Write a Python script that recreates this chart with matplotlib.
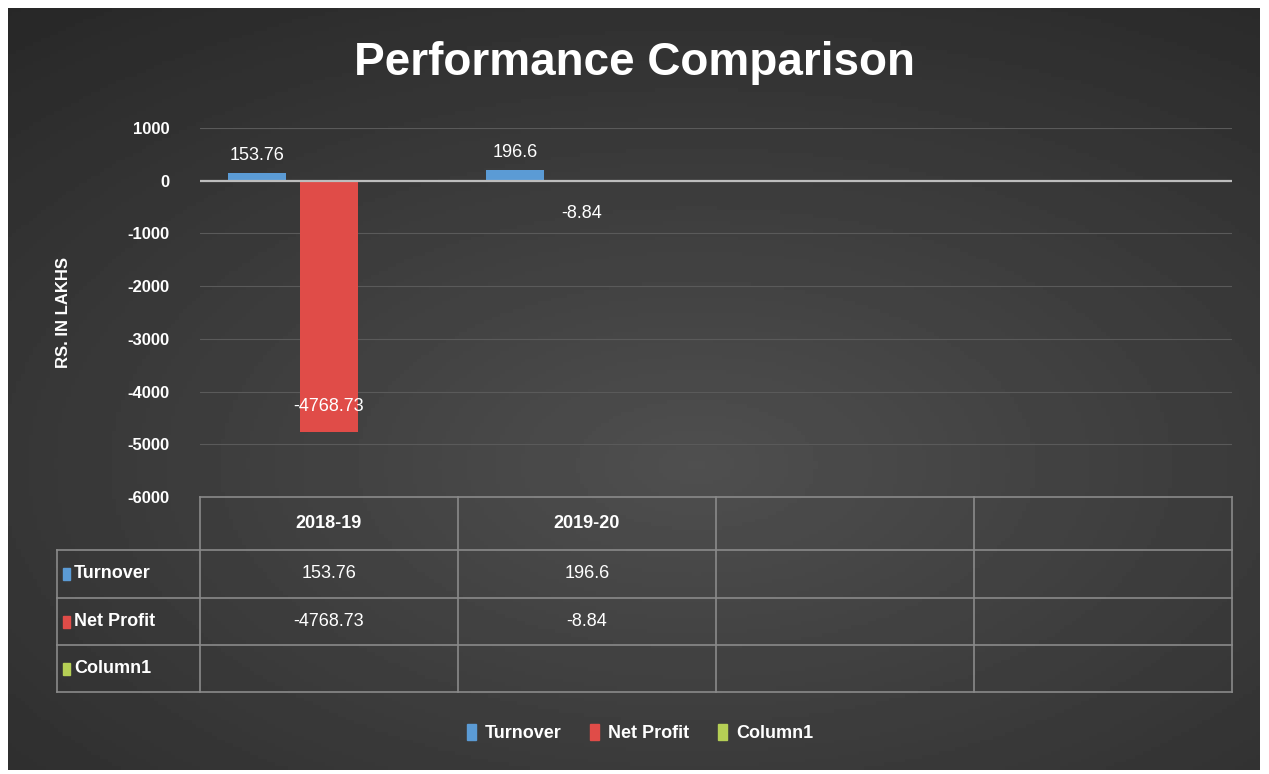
import matplotlib.pyplot as plt
import numpy as np
from matplotlib.lines import Line2D
from matplotlib.patches import Rectangle

plt.rcParams['font.family'] = ['Liberation Sans Narrow', 'Liberation Sans', 'DejaVu Sans']

years = ['2018-19', '2019-20', '', '']
series = ['Turnover', 'Net Profit', 'Column1']
turnover = [153.76, 196.6, None, None]
net_profit = [-4768.73, -8.84, None, None]
column1 = [None, None, None, None]
colors = ['#5b9bd5', '#e04c48', '#b5cf55']
yticks = [1000, 0, -1000, -2000, -3000, -4000, -5000, -6000]

W, H = 1269, 774
fig = plt.figure(figsize=(W / 100, H / 100), dpi=100)
fig.patch.set_facecolor('white')

# dark gradient background
bg = fig.add_axes([8 / W, 4 / H, 1252 / W, 762 / H])
yy, xx = np.mgrid[0:1:200j, 0:1:300j]
r = np.sqrt(((xx - 0.55) / 0.9) ** 2 + ((yy - 0.6) / 0.8) ** 2)
bg.imshow(0.31 - 0.16 * r, cmap='gray', vmin=0, vmax=1, aspect='auto', extent=[0, 1, 0, 1])
bg.set_axis_off()

def fx(px):
    return px / W

def fy(py):
    return 1 - py / H

ax = fig.add_axes([fx(200), fy(497), fx(1232) - fx(200), fy(128) - fy(497)])
ax.patch.set_alpha(0)
x = np.arange(len(years))
width = 0.225
step = 0.28
for i, vals in enumerate([turnover, net_profit, column1]):
    v = np.array([np.nan if a is None else a for a in vals], dtype=float)
    ax.bar(x + (i - 1) * step, np.nan_to_num(v), width, color=colors[i], zorder=3,
           edgecolor='none')

ax.set_xlim(-0.5, 3.5)
ax.set_ylim(-6000, 1000)
ax.set_yticks(yticks)
ax.set_yticklabels([str(t) for t in yticks], color='white', fontsize=12, fontweight='bold')
ax.tick_params(axis='y', length=0, pad=22)
ax.set_xticks([])
for s in ax.spines.values():
    s.set_visible(False)
for t in yticks:
    if t == 0:
        ax.axhline(0, color='#bdbdbd', lw=1.6, zorder=4)
    elif t > -6000:
        ax.axhline(t, color='#5a5a5a', lw=0.8, zorder=1)

# data labels
for j, v in enumerate(turnover):
    if v is not None:
        ax.text(x[j] - step, v + 170, f'{v:g}', ha='center', va='bottom', color='white',
                fontsize=13, zorder=5)
for j, v in enumerate(net_profit):
    if v is None:
        continue
    if v < -1000:
        ax.text(x[j], v + 480, f'{v:g}', ha='center', va='center', color='white',
                fontsize=13, zorder=5)
    else:
        ax.text(x[j] - 0.02, v - 620, f'{v:g}', ha='center', va='center', color='white',
                fontsize=13, zorder=5)

ax.set_ylabel('RS. IN LAKHS', color='white', fontsize=12, fontweight='bold')
ax.yaxis.set_label_coords(-0.125, 0.5)

fig.text(0.5, fy(63), 'Performance Comparison', ha='center', va='center', color='white',
         fontsize=33, fontweight='bold')

# data table below the axis
lc = '#8a8a8a'
col_x = [200 + k * 258 for k in range(5)]
row_y = [497, 550, 598, 645, 692]
def hline(py, x0, x1):
    fig.add_artist(Line2D([fx(x0), fx(x1)], [fy(py), fy(py)], color=lc, lw=1.2))
def vline(px, y0, y1):
    fig.add_artist(Line2D([fx(px), fx(px)], [fy(y0), fy(y1)], color=lc, lw=1.2))
hline(497, 200, 1232)
for py in row_y[1:]:
    hline(py, 57, 1232)
for px in col_x:
    vline(px, 497, 692)
vline(57, 550, 692)

for k, yr in enumerate(years):
    fig.text(fx(col_x[k] + 129), fy(523), yr, ha='center', va='center', color='white',
             fontsize=13, fontweight='bold')

for r_i, (name, vals) in enumerate(zip(series, [turnover, net_profit, column1])):
    cy = (row_y[r_i + 1] + row_y[r_i + 2]) / 2
    fig.add_artist(Rectangle((fx(63), fy(cy + 6)), fx(7), 12 / H, color=colors[r_i]))
    fig.text(fx(74), fy(cy), name, ha='left', va='center', color='white', fontsize=13,
             fontweight='bold')
    for k, v in enumerate(vals):
        if v is not None:
            fig.text(fx(col_x[k] + 129), fy(cy), f'{v:g}', ha='center', va='center',
                     color='white', fontsize=13)

# legend
handles = [Rectangle((0, 0), 1, 1, color=c) for c in colors]
leg = fig.legend(handles, series, loc='center', bbox_to_anchor=(fx(640), fy(733)), ncol=3,
                 frameon=False, handlelength=0.5, handleheight=1.0, handletextpad=0.5,
                 columnspacing=1.6, prop={'size': 13, 'weight': 'bold'})
for t in leg.get_texts():
    t.set_color('white')

fig.savefig('out.png', dpi=100, facecolor=fig.get_facecolor())
